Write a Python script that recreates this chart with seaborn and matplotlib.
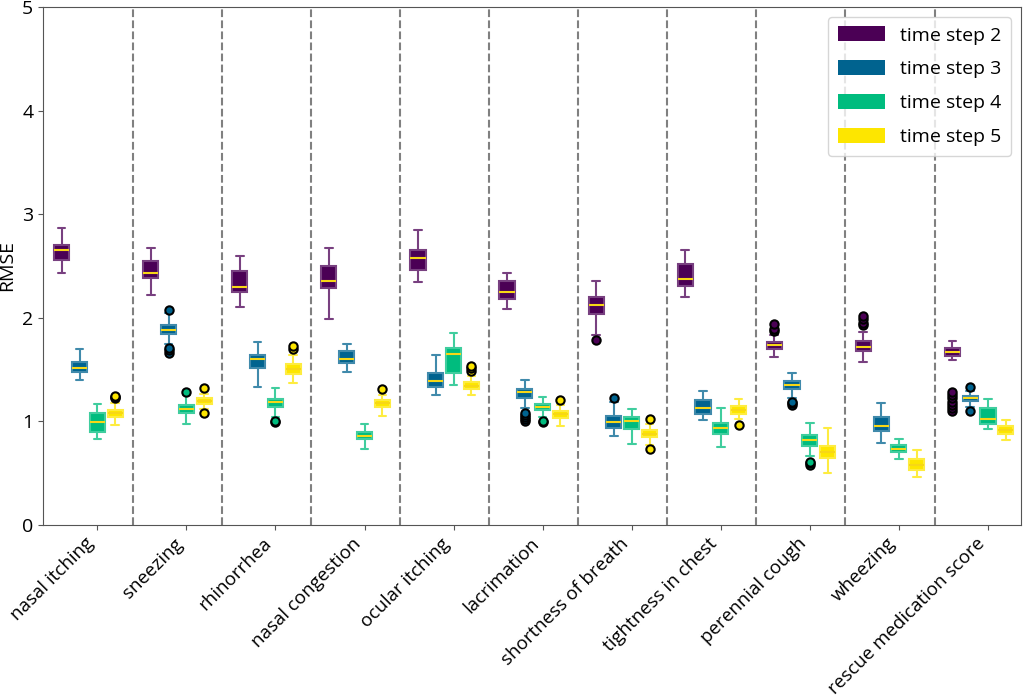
import numpy as np
import pandas as pd
import matplotlib
matplotlib.use("Agg")
import matplotlib.pyplot as plt
import seaborn as sns
from matplotlib.patches import Patch
from matplotlib.colors import to_rgb

symptoms = ['nasal itching', 'sneezing', 'rhinorrhea', 'nasal congestion', 'ocular itching',
            'lacrimation', 'shortness of breath', 'tightness in chest', 'perennial cough',
            'wheezing', 'rescue medication score']
steps = ['time step 2', 'time step 3', 'time step 4', 'time step 5']
colors = ['#4b0055', '#00638f', '#00bc7e', '#fde600']
offsets = [-0.4, -0.2, 0.0, 0.2]

# box summaries: (lower whisker, q1, median, q3, upper whisker)
ts2_stats = [(2.43, 2.56, 2.65, 2.70, 2.865), (2.22, 2.38, 2.436, 2.55, 2.67),
             (2.103, 2.247, 2.295, 2.449, 2.596), (1.984, 2.288, 2.356, 2.503, 2.67),
             (2.343, 2.465, 2.577, 2.651, 2.843), (2.08, 2.183, 2.25, 2.359, 2.429),
             (1.83, 2.035, 2.119, 2.196, 2.353), (2.202, 2.308, 2.369, 2.516, 2.654),
             (1.622, 1.699, 1.734, 1.763, 1.83), (1.577, 1.683, 1.715, 1.779, 1.862),
             (1.596, 1.631, 1.67, 1.705, 1.772)]
ts2_fliers = [[], [], [], [], [], [], [1.785], [], [1.87, 1.894, 1.936],
              [1.93, 1.952, 1.984, 2.016], [1.10, 1.13, 1.16, 1.19, 1.22, 1.25, 1.28]]

ts3_stats = [(1.397, 1.474, 1.513, 1.577, 1.695), (1.743, 1.843, 1.885, 1.926, 2.045),
             (1.327, 1.513, 1.603, 1.644, 1.769), (1.471, 1.564, 1.606, 1.676, 1.744),
             (1.256, 1.327, 1.391, 1.468, 1.635), (1.13, 1.221, 1.279, 1.311, 1.397),
             (0.856, 0.939, 0.99, 1.048, 1.183), (1.01, 1.071, 1.125, 1.202, 1.292),
             (1.228, 1.308, 1.349, 1.385, 1.462), (0.788, 0.91, 0.958, 1.045, 1.176),
             (1.141, 1.192, 1.221, 1.247, 1.292)]
ts3_fliers = [[], [1.66, 1.686, 1.708, 2.07], [], [], [], [1.005, 1.02, 1.04, 1.06, 1.08],
              [1.22], [], [1.16, 1.175, 1.19], [], [1.10, 1.335]]

ts4_stats = [(0.824, 0.897, 0.997, 1.083, 1.17), (0.978, 1.08, 1.122, 1.157, 1.253),
             (1.041, 1.141, 1.183, 1.218, 1.317), (0.731, 0.824, 0.859, 0.894, 0.971),
             (1.346, 1.468, 1.647, 1.712, 1.849), (1.045, 1.106, 1.141, 1.17, 1.234),
             (0.782, 0.929, 1.0, 1.045, 1.118), (0.756, 0.881, 0.933, 0.984, 1.125),
             (0.66, 0.766, 0.817, 0.865, 0.987), (0.638, 0.702, 0.737, 0.769, 0.824),
             (0.923, 0.974, 1.026, 1.131, 1.218)]
ts4_fliers = [[], [1.28], [0.99, 1.0], [], [], [0.99, 1.0], [], [], [0.58, 0.595, 0.61], [], []]

ts5_stats = [(0.965, 1.04, 1.077, 1.11, 1.18), (1.118, 1.17, 1.199, 1.228, 1.26),
             (1.372, 1.455, 1.50, 1.551, 1.638), (1.051, 1.135, 1.173, 1.202, 1.253),
             (1.256, 1.311, 1.343, 1.378, 1.439), (0.955, 1.035, 1.067, 1.10, 1.16),
             (0.772, 0.846, 0.881, 0.913, 0.978), (1.022, 1.074, 1.112, 1.144, 1.218),
             (0.50, 0.644, 0.705, 0.766, 0.933), (0.465, 0.529, 0.58, 0.631, 0.724),
             (0.815, 0.881, 0.913, 0.952, 1.01)]
ts5_fliers = [[1.22, 1.23, 1.245], [1.075, 1.32], [1.70, 1.724], [1.31], [1.49, 1.51, 1.535],
              [1.205], [0.728, 1.02], [0.96], [], [], []]

all_stats = [ts2_stats, ts3_stats, ts4_stats, ts5_stats]
all_fliers = [ts2_fliers, ts3_fliers, ts4_fliers, ts5_fliers]


def sample_from_stats(st, fl):
    # 4m+1 sorted points so that np.percentile gives back q1 / median / q3 exactly
    lo, q1, med, q3, hi = st
    low = sorted(v for v in fl if v < med)
    high = sorted(v for v in fl if v > med)
    m = max(len(low), len(high)) + 2
    pts = low + [lo] + [q1] * (m - len(low) - 1)
    pts += [q1] + [med] * m + [q3] * m
    pts += [q3] * (m - len(high) - 1) + [hi] + high
    return pts


rows = []
for k, step in enumerate(steps):
    for i, sym in enumerate(symptoms):
        for v in sample_from_stats(all_stats[k][i], all_fliers[k][i]):
            rows.append({'symptom': sym, 'step': step, 'pos': i + offsets[k], 'RMSE': v})
df = pd.DataFrame(rows)

sns.set_style('ticks')
plt.rcParams['font.family'] = ['Open Sans', 'DejaVu Sans']
plt.rcParams['text.color'] = 'black'
plt.rcParams['axes.labelcolor'] = 'black'
plt.rcParams['xtick.labelcolor'] = 'black'
plt.rcParams['ytick.labelcolor'] = 'black'

fig, ax = plt.subplots(figsize=(10.24, 6.97), dpi=100)

for k, step in enumerate(steps):
    c = np.array(to_rgb(colors[k]))
    light = tuple(c * 0.75 + 0.25)
    sns.boxplot(data=df[df['step'] == step], x='pos', y='RMSE', native_scale=True,
                color=colors[k], saturation=1, width=0.17, linewidth=1.5, ax=ax,
                boxprops={'facecolor': colors[k], 'edgecolor': light},
                whiskerprops={'color': light},
                capprops={'color': light},
                medianprops={'color': '#f7d716', 'linewidth': 1.5},
                flierprops={'marker': 'o', 'markerfacecolor': colors[k],
                            'markeredgecolor': 'black', 'markersize': 6,
                            'markeredgewidth': 1.5})

for i in range(len(symptoms) - 1):
    ax.axvline(i + 0.4, color='gray', linestyle='--', linewidth=1.5, zorder=0)

ax.set_xlim(-0.61, 10.37)
ax.set_ylim(0, 5)
ax.set_xticks(range(len(symptoms)))
ax.set_xticklabels(symptoms, rotation=45, ha='right', fontsize=13.5)
ax.set_yticks(range(6))
ax.tick_params(axis='y', labelsize=14)
ax.tick_params(colors='#555555', labelcolor='black')
ax.set_xlabel('')
ax.set_ylabel('RMSE', fontsize=14)
for sp in ax.spines.values():
    sp.set_visible(True)
    sp.set_color('#555555')

handles = [Patch(facecolor=c, edgecolor='none', label=s) for c, s in zip(colors, steps)]
ax.legend(handles=handles, loc='upper right', fontsize=14, handlelength=2.4,
          handleheight=0.8, labelspacing=0.8, framealpha=0.8, borderpad=0.5)

fig.subplots_adjust(left=0.042, right=0.997, top=0.99, bottom=0.247)
fig.savefig('out.png', dpi=100)
